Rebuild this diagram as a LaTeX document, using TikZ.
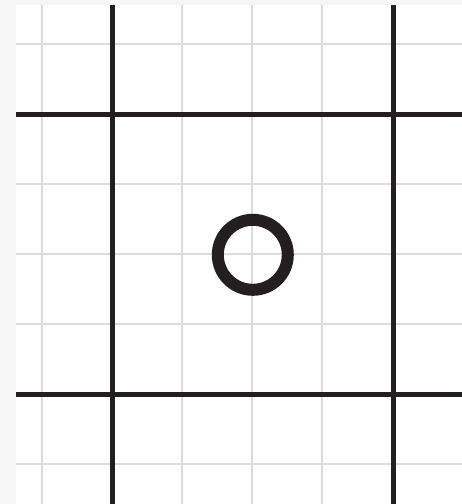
\documentclass[tikz,border=0pt]{standalone}
\definecolor{ink}{HTML}{231F20}
\definecolor{gridgray}{HTML}{DCDCDC}
\definecolor{strip}{HTML}{F6F6F6}
\tikzset{
  thin grid/.style={draw=gridgray, line width=1.4pt},
  thick rule/.style={draw=ink, line width=5pt},
  ring/.style={draw=ink, line width=12pt}
}
\begin{document}
\begin{tikzpicture}[x=1pt,y=-1pt]
\useasboundingbox (0,0) rectangle (462,504);
\fill[white] (0,0) rectangle (462,504);
% faint strips
\fill[strip] (0,0) rectangle (16,504);
\fill[strip] (16,0) rectangle (462,5);
% light grid
\foreach \x in {42,182,252,322}
  \draw[thin grid] (\x,5) -- (\x,504);
\foreach \y in {44,184,254,324,464}
  \draw[thin grid] (16,\y) -- (462,\y);
% thick rules
\coordinate (v1t) at (112.5,5);   \coordinate (v1b) at (112.5,504);
\coordinate (v2t) at (393,5);     \coordinate (v2b) at (393,504);
\coordinate (h1l) at (16,114.5);  \coordinate (h1r) at (462,114.5);
\coordinate (h2l) at (16,394.5);  \coordinate (h2r) at (462,394.5);
\draw[thick rule] (v1t) -- (v1b);
\draw[thick rule] (v2t) -- (v2b);
\draw[thick rule] (h1l) -- (h1r);
\draw[thick rule] (h2l) -- (h2r);
% circle
\node[ring, circle, minimum size=70pt, inner sep=0pt] (c) at (252.8,254.8) {};
\end{tikzpicture}
\end{document}
